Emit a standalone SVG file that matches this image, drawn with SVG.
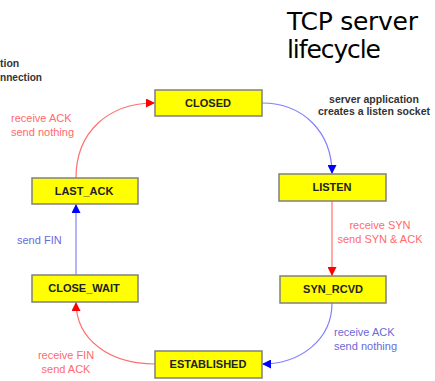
<svg xmlns="http://www.w3.org/2000/svg" width="435" height="381" viewBox="0 0 435 381">
<style>
.box{fill:#ffff00;stroke:#808080;stroke-width:1.5}
.bl{font-family:"Liberation Sans",Arial,sans-serif;font-size:11px;font-weight:bold;fill:#222;text-anchor:middle}
.lbl{font-family:"Liberation Sans",Arial,sans-serif;font-size:11px}
.red{fill:#ff6a6a}
.blue{fill:#6a6ad8}
.cr{fill:none;stroke:#ff7070;stroke-width:1.2}
.cb{fill:none;stroke:#8080ff;stroke-width:1.2}
.note{font-family:"Liberation Sans",Arial,sans-serif;font-size:10.5px;font-weight:bold;fill:#333}
.title{font-family:"DejaVu Sans",sans-serif;font-size:25px;fill:#000}
</style>
<defs>
<marker id="ar" viewBox="0 0 10 10" refX="10" refY="5" markerWidth="9" markerHeight="9" markerUnits="userSpaceOnUse" orient="auto"><path d="M0,0 L10,5 L0,10 z" fill="#ff0000"/></marker>
<marker id="ab" viewBox="0 0 10 10" refX="10" refY="5" markerWidth="9" markerHeight="9" markerUnits="userSpaceOnUse" orient="auto"><path d="M0,0 L10,5 L0,10 z" fill="#0000ff"/></marker>
</defs>
<text class="title" x="287" y="30" textLength="131">TCP server</text>
<text class="title" x="287" y="58" textLength="94">lifecycle</text>
<text class="note" x="0" y="67">tion</text>
<text class="note" x="0" y="81" textLength="42" lengthAdjust="spacingAndGlyphs">nnection</text>
<g id="connectors">
<path class="cr" d="M76,178 C76,132 108,103 155,103" marker-end="url(#ar)"/>
<path class="cb" d="M262,103 C303,103 332,132 332,174" marker-end="url(#ab)"/>
<path class="cr" d="M332,201 L332,276" marker-end="url(#ar)"/>
<path class="cb" d="M332,303 C332,340 300,364 262,364" marker-end="url(#ab)"/>
<path class="cr" d="M155,364 C110,364 76,340 76,302" marker-end="url(#ar)"/>
<path class="cb" d="M76,275 L76,204" stroke-width="2" marker-end="url(#ab)"/>
<text class="lbl red" x="11" y="122">receive ACK</text>
<text class="lbl red" x="11" y="136">send nothing</text>
<text class="note" x="374" y="103" text-anchor="middle">server application</text>
<text class="note" x="374" y="115" text-anchor="middle">creates a listen socket</text>
<text class="lbl red" x="380" y="229" text-anchor="middle">receive SYN</text>
<text class="lbl red" x="380" y="243" text-anchor="middle">send SYN &amp; ACK</text>
<text class="lbl blue" x="334" y="336">receive ACK</text>
<text class="lbl blue" x="334" y="350">send nothing</text>
<text class="lbl red" x="66" y="359" text-anchor="middle">receive FIN</text>
<text class="lbl red" x="66" y="373" text-anchor="middle">send ACK</text>
<text class="lbl blue" x="17" y="244">send FIN</text>
</g>
<g id="closed"><rect class="box" x="155" y="90" width="107" height="26"/><text class="bl" x="208" y="107">CLOSED</text></g>
<g id="listen"><rect class="box" x="279" y="174" width="107" height="27"/><text class="bl" x="332" y="191">LISTEN</text></g>
<g id="syn_rcvd"><rect class="box" x="280" y="276" width="106" height="27"/><text class="bl" x="333" y="293">SYN_RCVD</text></g>
<g id="established"><rect class="box" x="155" y="351" width="107" height="27"/><text class="bl" x="208" y="368">ESTABLISHED</text></g>
<g id="close_wait"><rect class="box" x="32" y="275" width="106" height="27"/><text class="bl" x="84" y="292">CLOSE_WAIT</text></g>
<g id="last_ack"><rect class="box" x="32" y="178" width="106" height="26"/><text class="bl" x="84" y="195">LAST_ACK</text></g>
</svg>
